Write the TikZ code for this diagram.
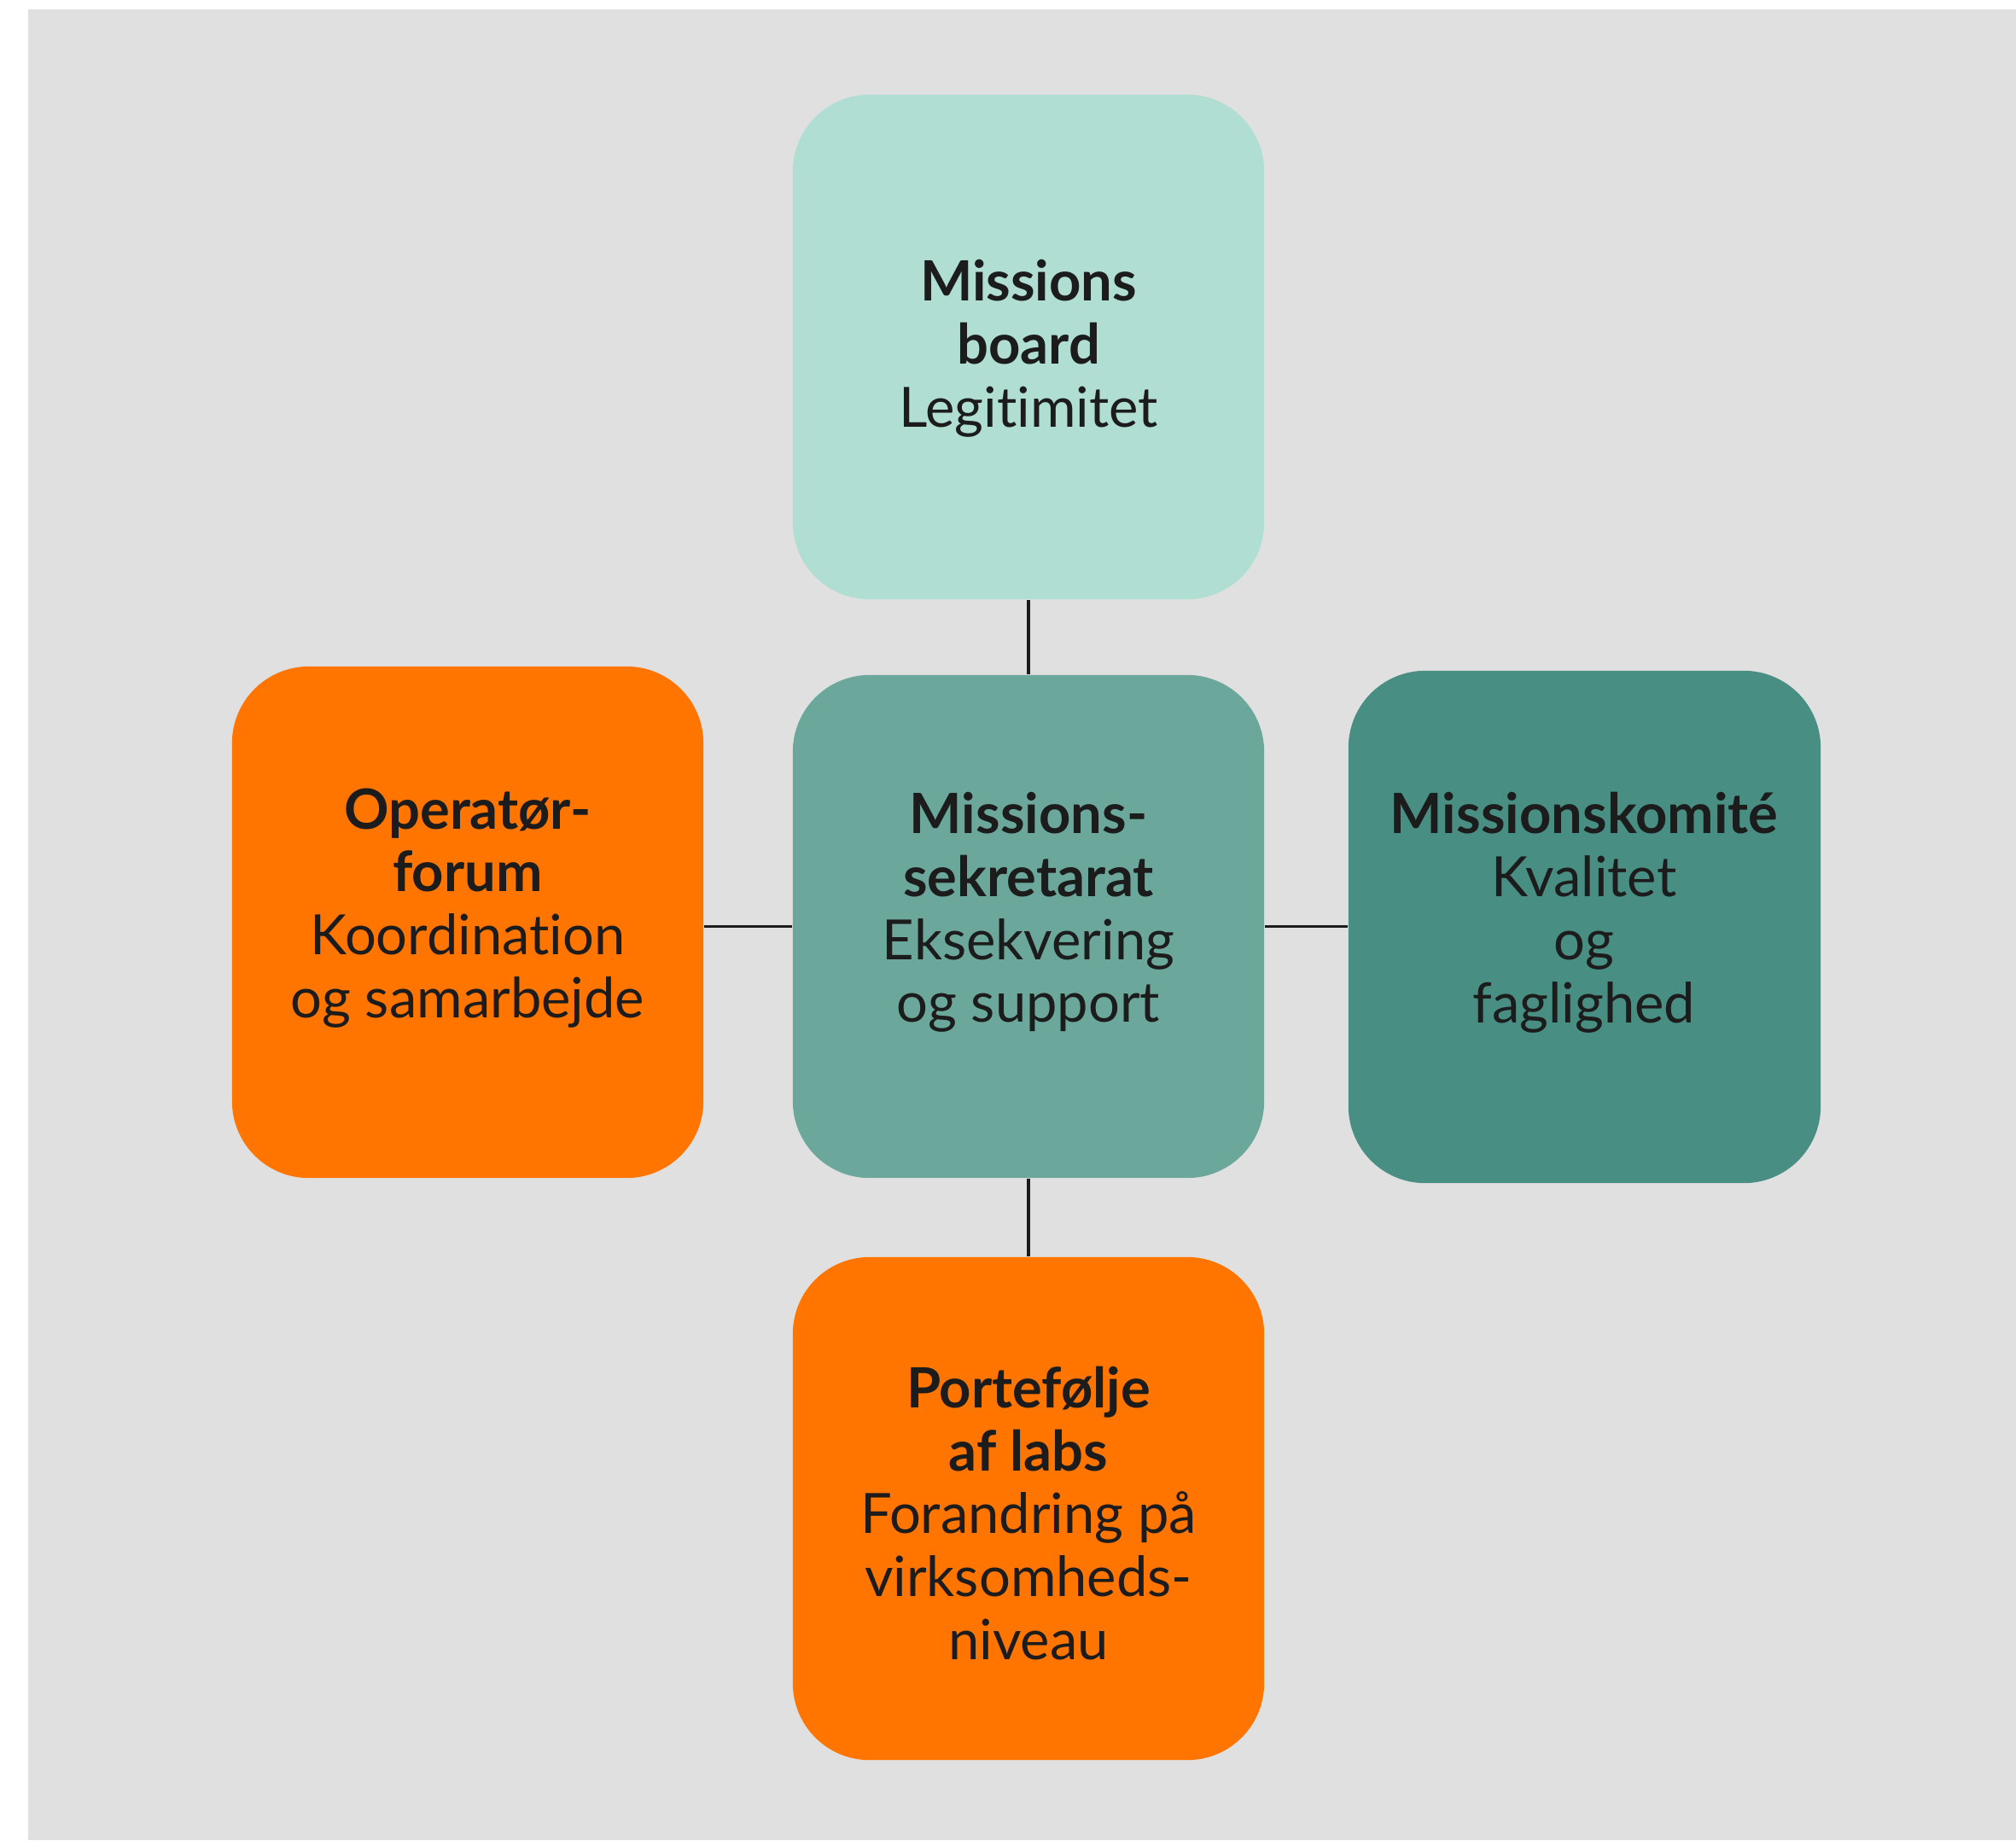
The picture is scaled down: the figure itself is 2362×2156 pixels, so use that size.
\documentclass[tikz,border=0pt]{standalone}
\usepackage{fontspec}
\setmainfont{Lato}[Ligatures={NoCommon}]
\begin{document}
\definecolor{bggray}{HTML}{E0E0E0}
\definecolor{mint}{HTML}{B0DED3}
\definecolor{sage}{HTML}{6BA89B}
\definecolor{pine}{HTML}{498E82}
\definecolor{signal}{HTML}{FF7500}
\definecolor{ink}{HTML}{1C1C1C}
\begin{tikzpicture}[x=0.01cm,y=-0.01cm,
  card/.style={draw=none, rectangle, rounded corners=0.9cm, inner sep=0pt},
  cardtext/.style={inner sep=0pt, align=center, text=ink,
    font=\fontsize{18.5}{21}\selectfont},
  link/.style={draw=ink, line width=1pt}]
  % canvas
  \useasboundingbox[fill=white] (0,0) rectangle (2362,2156);
  \fill[bggray] (33,11) rectangle (2362,2156);

  % boxes
  \node[card, fill=mint,   minimum width=5.52cm, minimum height=5.91cm] (top)   at (1205,406.5) {};
  \node[card, fill=sage,   minimum width=5.52cm, minimum height=5.89cm] (ctr)   at (1205,1085.5) {};
  \node[card, fill=signal, minimum width=5.52cm, minimum height=5.99cm] (left)  at (548,1080.5) {};
  \node[card, fill=pine,   minimum width=5.53cm, minimum height=6.00cm] (right) at (1856.5,1086) {};
  \node[card, fill=signal, minimum width=5.52cm, minimum height=5.89cm] (bot)   at (1205,1767.5) {};

  % labels
  \node[cardtext] (toptxt) at (1205,408) {\textbf{Missions}\\\textbf{board}\\Legitimitet};
  \node[cardtext] (lefttxt) at (548,1064) {\textbf{Operatør-}\\\textbf{forum}\\Koordination\\og samarbejde};
  \node[cardtext] (ctrtxt) at (1205,1069) {\textbf{Missions-}\\\textbf{sekretarat}\\Eksekvering\\og support};
  \node[cardtext] (righttxt) at (1856,1069) {\textbf{Missionskomité}\\Kvalitet\\og\\faglighed};
  \node[cardtext] (bottxt) at (1205,1773) {\textbf{Portefølje}\\\textbf{af labs}\\Forandring på\\virksomheds-\\niveau};

  % connectors
  \draw[link] (ctr.north) -- (ctr.north |- top.south);
  \draw[link] (ctr.south) -- (ctr.south |- bot.north);
  \draw[link] (ctr.west) -- (ctr.west -| left.east);
  \draw[link] (ctr.east) -- (ctr.east -| right.west);
\end{tikzpicture}
\end{document}
